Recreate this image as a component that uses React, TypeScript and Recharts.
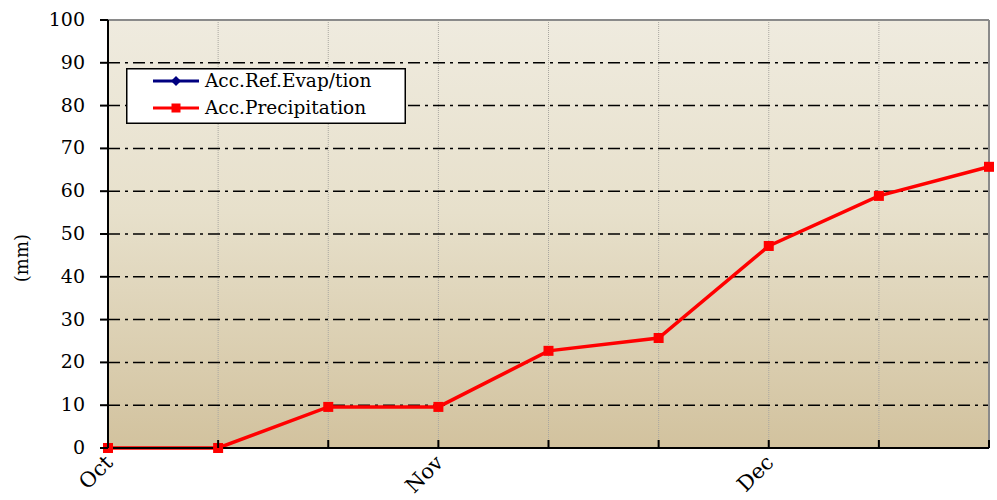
import React from 'react';
import { LineChart, Line, XAxis, YAxis, CartesianGrid, ReferenceLine, Legend } from 'recharts';

const periods = ['Oct 1', 'Oct 2', 'Oct 3', 'Nov 1', 'Nov 2', 'Nov 3', 'Dec 1', 'Dec 2', 'Dec 3'];
const monthLabels = ['Oct', '', '', 'Nov', '', '', 'Dec', '', ''];
const accRefEvap: (number | null)[] = [0, null, null, null, null, null, null, null, null];
const accPrecipitation = [0, 0, 9.6, 9.6, 22.7, 25.7, 47.2, 58.9, 65.7];
const yTicks = [0, 10, 20, 30, 40, 50, 60, 70, 80, 90, 100];
const gridValues = [10, 20, 30, 40, 50, 60, 70, 80, 90];

const data = periods.map((p, i) => ({
  period: p,
  evap: accRefEvap[i],
  precip: accPrecipitation[i],
}));

const FONT = '"DejaVu Serif", serif';

const XTick = (props: any) => {
  const { x, y, payload } = props;
  const idx = periods.indexOf(payload.value);
  const label = idx >= 0 ? monthLabels[idx] : '';
  const ax = x + 6;
  const ay = y + 16;
  return (
    <g>
      <line x1={x} y1={y} x2={x} y2={y - 8} stroke="#000" strokeWidth={2} />
      {label ? (
        <text
          x={ax}
          y={ay}
          transform={`rotate(-45 ${ax} ${ay})`}
          textAnchor="end"
          fontFamily={FONT}
          fontSize={21}
          fill="#000"
        >
          {label}
        </text>
      ) : null}
    </g>
  );
};

const YTick = (props: any) => {
  const { x, y, payload } = props;
  return (
    <g>
      <line x1={x} y1={y} x2={x - 8} y2={y} stroke="#000" strokeWidth={2} />
      <text x={x - 23} y={y + 6} textAnchor="end" fontFamily={FONT} fontSize={19} fill="#000">
        {payload.value}
      </text>
    </g>
  );
};

const SquareDot = (props: any) => {
  const { cx, cy, value } = props;
  if (value === null || value === undefined || cx == null || cy == null) return <g />;
  return <rect x={cx - 5} y={cy - 5} width={10} height={10} fill="#ff0000" />;
};

const DiamondDot = (props: any) => {
  const { cx, cy, value } = props;
  if (value === null || value === undefined || cx == null || cy == null) return <g />;
  return <polygon points={`${cx},${cy - 5} ${cx + 5},${cy} ${cx},${cy + 5} ${cx - 5},${cy}`} fill="#000080" />;
};

const LegendBox = () => (
  <svg width={280} height={56} style={{ display: 'block' }}>
    <rect x={0.75} y={0.75} width={278.5} height={54.5} fill="#fff" stroke="#000" strokeWidth={1.5} />
    <line x1={27} y1={13} x2={73} y2={13} stroke="#000080" strokeWidth={3} />
    <polygon points="50,8 55,13 50,18 45,13" fill="#000080" />
    <line x1={27} y1={40} x2={73} y2={40} stroke="#ff0000" strokeWidth={3} />
    <rect x={45.5} y={35.5} width={9} height={9} fill="#ff0000" />
    <text x={79} y={19} fontFamily={FONT} fontSize={18.5} fill="#000">Acc.Ref.Evap/tion</text>
    <text x={79} y={46} fontFamily={FONT} fontSize={18.5} fill="#000">Acc.Precipitation</text>
  </svg>
);

export default function App() {
  return (
    <div style={{ position: 'absolute', left: 0, top: 0, width: 997, height: 500, background: '#fff' }}>
      <LineChart
        width={997}
        height={500}
        data={data}
        margin={{ top: 20, right: 8, left: 48, bottom: 12 }}
      >
        <defs>
          <linearGradient id="bgGrad" x1="0" y1="0" x2="0" y2="1">
            <stop offset="0%" stopColor="#efebdf" />
            <stop offset="45%" stopColor="#e7e0cb" />
            <stop offset="100%" stopColor="#d2c29e" />
          </linearGradient>
        </defs>
        <CartesianGrid
          horizontal={false}
          vertical={true}
          fill="url(#bgGrad)"
          fillOpacity={1}
          stroke="#a8a6a0"
          strokeDasharray="1 1"
        />
        <CartesianGrid
          horizontal={true}
          vertical={false}
          horizontalValues={gridValues}
          stroke="#000"
          strokeWidth={1.5}
          strokeDasharray="12 5 3 5"
        />
        <ReferenceLine y={100} stroke="#8a8a8a" strokeWidth={2} />
        <ReferenceLine x="Dec 3" stroke="#8a8a8a" strokeWidth={2} />
        <XAxis
          dataKey="period"
          height={40}
          stroke="#000"
          strokeWidth={2}
          tickLine={false}
          tickSize={0}
          tickMargin={0}
          interval={0}
          tick={<XTick />}
        />
        <YAxis
          width={60}
          domain={[0, 100]}
          ticks={yTicks}
          interval={0}
          stroke="#000"
          strokeWidth={2}
          tickLine={false}
          tickSize={0}
          tickMargin={0}
          tick={<YTick />}
          label={{ value: '(mm)', angle: -90, position: 'left', offset: 26, fontFamily: FONT, fontSize: 18, fill: '#000' }}
        />
        <Legend
          layout="vertical"
          align="center"
          verticalAlign="middle"
          content={<LegendBox />}
          wrapperStyle={{ position: 'absolute', left: 126, top: 68, width: 280, height: 56 }}
        />
        <Line
          dataKey="evap"
          stroke="#000080"
          strokeWidth={3}
          dot={<DiamondDot />}
          isAnimationActive={false}
          connectNulls={false}
        />
        <Line
          dataKey="precip"
          stroke="#ff0000"
          strokeWidth={3.5}
          dot={<SquareDot />}
          activeDot={false}
          isAnimationActive={false}
        />
      </LineChart>
    </div>
  );
}
